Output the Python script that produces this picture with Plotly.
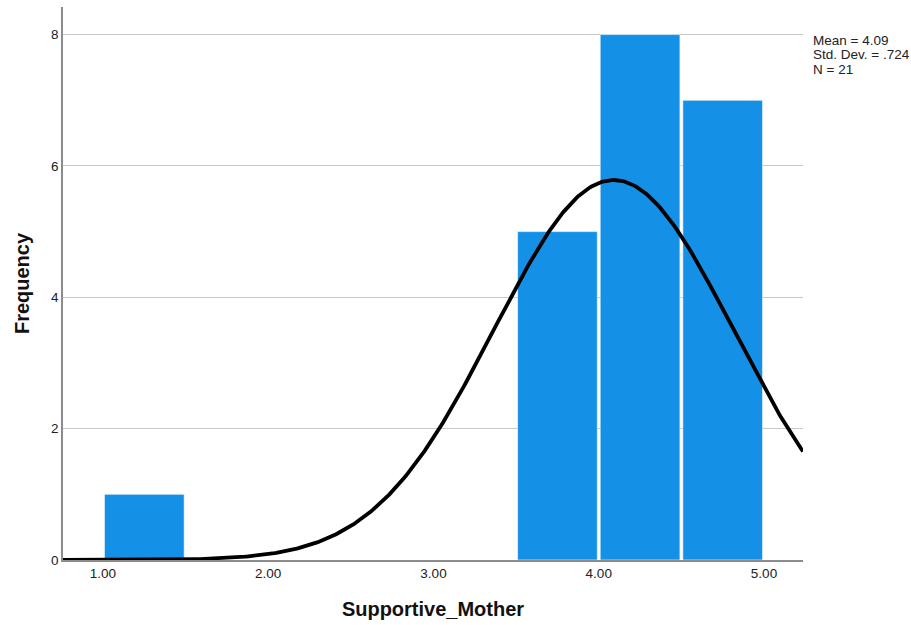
import numpy as np
import plotly.graph_objects as go

# Histogram of Supportive_Mother (bin width 0.5)
bin_starts = [1.0, 1.5, 2.0, 2.5, 3.0, 3.5, 4.0, 4.5]
counts = [1, 0, 0, 0, 0, 5, 8, 7]
bin_width = 0.5

# Descriptive statistics shown beside the plot
mean = 4.09
std_dev = 0.724
n = 21

x_tick_vals = [1, 2, 3, 4, 5]
x_tick_text = ["1.00", "2.00", "3.00", "4.00", "5.00"]
y_tick_vals = [0, 2, 4, 6, 8]

x_range = [0.758, 5.236]
y_range = [0, 8.42]

bar_color = "#1490E6"
font_family = "Liberation Sans, Arial, sans-serif"

centers = [s + bin_width / 2 for s in bin_starts]

# Normal curve scaled to the histogram: N * width * pdf
xs = np.linspace(x_range[0], x_range[1], 400)
ys = n * bin_width / (std_dev * np.sqrt(2 * np.pi)) * np.exp(-0.5 * ((xs - mean) / std_dev) ** 2)

fig = go.Figure()
fig.add_trace(go.Bar(
    x=centers, y=counts, width=bin_width * 0.965,
    marker=dict(color=bar_color, line=dict(color="rgba(255,255,255,0.6)", width=1)),
    hoverinfo="x+y", showlegend=False,
))
fig.add_trace(go.Scatter(
    x=xs, y=ys, mode="lines",
    line=dict(color="black", width=3.8),
    hoverinfo="skip", showlegend=False, cliponaxis=False,
))

ML, MR, MT, MB = 63, 108, 7, 65
plot_w = 911 - ML - MR
plot_h = 625 - MT - MB

stats_lines = [
    f"Mean = {mean:.2f}",
    "Std. Dev. = " + f"{std_dev:.3f}".lstrip("0"),
    f"N = {n}",
]
annotations = []
for i, line in enumerate(stats_lines):
    y_px = 41 + 14 * i  # vertical centre of each line, in pixels from top
    annotations.append(dict(
        x=(811 - ML) / plot_w, y=1 - (y_px - MT) / plot_h,
        xref="paper", yref="paper", showarrow=False,
        text=line, align="left", xanchor="left", yanchor="middle",
        font=dict(size=13.5, color="#222222"),
    ))

fig.update_layout(
    width=911, height=625,
    margin=dict(l=ML, r=MR, t=MT, b=MB),
    paper_bgcolor="white", plot_bgcolor="white",
    font=dict(family=font_family, size=13, color="#222222"),
    xaxis=dict(
        range=x_range, tickvals=x_tick_vals, ticktext=x_tick_text,
        showgrid=False, zeroline=False,
        showline=True, linecolor="#8c8c8c", linewidth=1.5,
        ticks="", ticklen=0,
        tickfont=dict(size=13.5, color="#222222"),
        title=dict(text="<b>Supportive_Mother</b>", font=dict(size=20, color="#111111"), standoff=22),
    ),
    yaxis=dict(
        range=y_range, tickvals=y_tick_vals,
        showgrid=True, gridcolor="#c8c8c8", gridwidth=1,
        zeroline=False,
        showline=True, linecolor="#8c8c8c", linewidth=1.5,
        ticks="", ticklen=0,
        tickfont=dict(size=13.5, color="#222222"),
        title=dict(text="<b>Frequency</b>", font=dict(size=20, color="#111111"), standoff=16),
    ),
    annotations=annotations,
)

fig.write_html("out.html")
